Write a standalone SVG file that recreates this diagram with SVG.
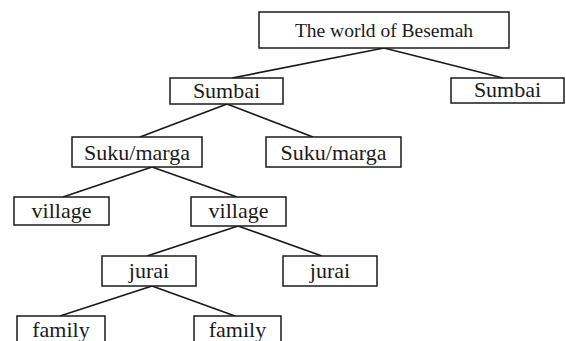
<svg xmlns="http://www.w3.org/2000/svg" width="566" height="341" viewBox="0 0 566 341">
<style>
rect{fill:#fff;stroke:#1a1a1a;stroke-width:1.5}
text{font-family:"Liberation Serif","Times New Roman",serif;font-size:22px;fill:#1a1a1a;text-anchor:middle}
.t{font-size:19.5px}
#edges line{stroke:#1a1a1a;stroke-width:1.7}
</style>
<rect x="0" y="0" width="566" height="341" style="stroke:none"/>
<g id="edges">
<line x1="384" y1="48" x2="232" y2="78"/>
<line x1="384" y1="48" x2="503" y2="78"/>
<line x1="227" y1="104" x2="140" y2="137"/>
<line x1="227" y1="104" x2="313" y2="137"/>
<line x1="152" y1="167" x2="63" y2="197"/>
<line x1="152" y1="167" x2="237" y2="197"/>
<line x1="238" y1="226" x2="147" y2="256"/>
<line x1="238" y1="226" x2="322" y2="256"/>
<line x1="152" y1="286" x2="60" y2="316"/>
<line x1="152" y1="286" x2="235" y2="316"/>
</g>
<g id="root"><rect x="259" y="12" width="250" height="36"/><text class="t" x="384" y="36.5">The world of Besemah</text></g>
<g id="sumbai1"><rect x="170" y="78" width="113" height="26"/><text x="226.5" y="98">Sumbai</text></g>
<g id="sumbai2"><rect x="451" y="78" width="113" height="25"/><text x="507.5" y="97">Sumbai</text></g>
<g id="suku1"><rect x="72" y="137" width="130" height="30"/><text x="137" y="159.5">Suku/marga</text></g>
<g id="suku2"><rect x="266" y="137" width="135" height="30"/><text x="333.5" y="159.5">Suku/marga</text></g>
<g id="village1"><rect x="14" y="197" width="95" height="28"/><text x="61.5" y="218">village</text></g>
<g id="village2"><rect x="191" y="197" width="95" height="29"/><text x="238.5" y="218">village</text></g>
<g id="jurai1"><rect x="102" y="256" width="94" height="30"/><text x="149" y="277.5">jurai</text></g>
<g id="jurai2"><rect x="283" y="256" width="94" height="30"/><text x="330" y="277.5">jurai</text></g>
<g id="family1"><rect x="17" y="316" width="88" height="27"/><text x="61" y="337">family</text></g>
<g id="family2"><rect x="194" y="316" width="87" height="27"/><text x="237.5" y="337">family</text></g>
</svg>
